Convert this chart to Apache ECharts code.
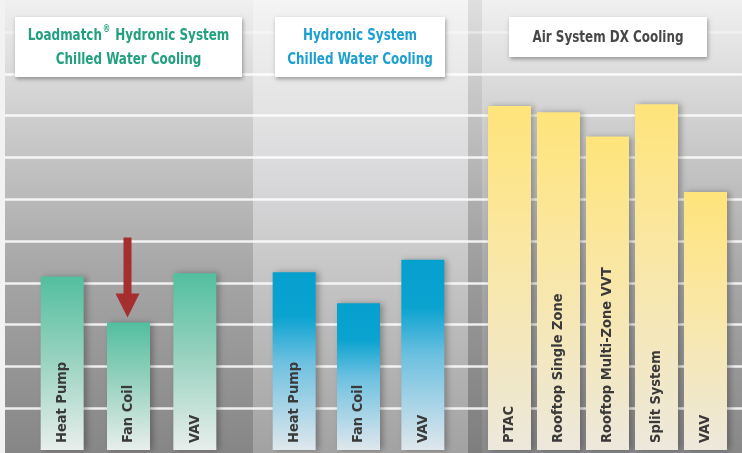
<!DOCTYPE html>
<html>
<head>
<meta charset="utf-8">
<script src="https://cdn.jsdelivr.net/npm/echarts@6/dist/echarts.min.js"></script>
<style>
html,body{margin:0;padding:0;background:#fff;}
#chart{width:742px;height:453px;}
</style>
</head>
<body>
<div id="chart"></div>
<script>
// ---- data ----
const catsLoadmatch = ['Heat Pump', 'Fan Coil', 'VAV'];
const valsLoadmatch = [4.15, 3.05, 4.23];
const catsHydronic = ['Heat Pump', 'Fan Coil', 'VAV'];
const valsHydronic = [4.25, 3.51, 4.55];
const catsAir = ['PTAC', 'Rooftop Single Zone', 'Rooftop Multi-Zone VVT', 'Split System', 'VAV'];
const valsAir = [8.23, 8.08, 7.50, 8.27, 6.17];
const headerLoadmatch = ['Loadmatch', '®', ' Hydronic System', 'Chilled Water Cooling'];
const headerHydronic = ['Hydronic System', 'Chilled Water Cooling'];
const headerAir = ['Air System DX Cooling'];
const highlightCategory = 'Fan Coil';
const highlightValue = valsLoadmatch[catsLoadmatch.indexOf(highlightCategory)];

const FONT = '"Liberation Sans Narrow", "DejaVu Sans Condensed", sans-serif';

function vgrad(stops) {
  return {type: 'linear', x: 0, y: 0, x2: 0, y2: 1,
    colorStops: stops.map(s => ({offset: s[0], color: s[1]}))};
}

const tealGrad = vgrad([[0, '#52bf9e'], [0.45, '#95d1be'], [1, '#e8eeec']]);
const blueGrad = vgrad([[0, '#06a0cf'], [0.25, '#0ba3d0'], [0.5, '#6cc0e0'], [1, '#dfe7ec']]);
const yellowGrad = vgrad([[0, '#ffe47a'], [0.45, '#f9e7a6'], [1, '#ece8dc']]);

const barLabel = {
  show: true, position: 'insideBottom', rotate: 90, align: 'left', verticalAlign: 'middle',
  distance: 7, formatter: '{b}', color: '#3a3a3a', fontFamily: FONT, fontWeight: 'bold', fontSize: 14.5
};

function barSeries(idx, data, grad, extra) {
  return Object.assign({
    type: 'bar', xAxisIndex: idx, yAxisIndex: idx, data: data, barWidth: 43,
    itemStyle: {color: grad, shadowColor: 'rgba(0,0,0,0.28)', shadowBlur: 6, shadowOffsetX: 3},
    label: barLabel, silent: true, z: 3
  }, extra || {});
}

const yBase = {type: 'value', min: 0, max: 10, interval: 1, axisLine: {show: false},
  axisTick: {show: false}, axisLabel: {show: false}, splitLine: {show: false}};
const xCat = (cats) => ({type: 'category', data: cats, axisLine: {show: false},
  axisTick: {show: false}, axisLabel: {show: false}, splitLine: {show: false}});

const lineColors = ['rgba(255,255,255,0)'];
for (let i = 0; i < 9; i++) lineColors.push('rgba(255,255,255,0.85)');
lineColors.push('rgba(255,255,255,0.4)');

function header(x, y, w, h, lines, color, rich, lh) {
  return {
    type: 'group', z: 100, children: [
      {type: 'rect', shape: {x: x, y: y, width: w, height: h},
        style: {fill: '#ffffff', shadowColor: 'rgba(0,0,0,0.35)', shadowBlur: 4, shadowOffsetX: 1, shadowOffsetY: 2}, z: 100},
      {type: 'text', x: x + w / 2, y: y + h / 2 + 1, z: 101, scaleX: 0.83,
        style: {text: lines, fill: color, font: 'bold 16px ' + FONT, align: 'center', verticalAlign: 'middle',
          lineHeight: lh || 24, rich: rich}}
    ]
  };
}

const richLoad = {
  a: {fill: '#22a080', font: 'bold 16px ' + FONT, lineHeight: 24},
  r: {fill: '#22a080', font: 'bold 10px ' + FONT, verticalAlign: 'top', lineHeight: 24, padding: [0, 1, 2, 1]}
};

const option = {
  backgroundColor: '#ffffff',
  animation: false,
  grid: [
    {left: 5, right: 0, top: 32, bottom: 3},
    {left: 29, width: 199, top: 32, bottom: 3},
    {left: 262, width: 193, top: 32, bottom: 3},
    {left: 485, width: 245, top: 32, bottom: 3}
  ],
  xAxis: [
    {type: 'value', gridIndex: 0, show: false},
    Object.assign(xCat(catsLoadmatch), {gridIndex: 1}),
    Object.assign(xCat(catsHydronic), {gridIndex: 2}),
    Object.assign(xCat(catsAir), {gridIndex: 3})
  ],
  yAxis: [
    Object.assign({}, yBase, {gridIndex: 0, splitLine: {show: true, lineStyle: {color: lineColors, width: 2.5}}}),
    Object.assign({}, yBase, {gridIndex: 1}),
    Object.assign({}, yBase, {gridIndex: 2}),
    Object.assign({}, yBase, {gridIndex: 3})
  ],
  graphic: [
    {type: 'rect', z: -10, silent: true, shape: {x: 0, y: 0, width: 742, height: 453}, style: {fill: '#f2f2f2'}},
    {type: 'rect', z: -9, silent: true, shape: {x: 5, y: 0, width: 248, height: 453},
      style: {fill: vgrad([[0, '#f0f0f0'], [0.25, '#cfcfcf'], [0.6, '#a6a6a6'], [1, '#868686']])}},
    {type: 'rect', z: -9, silent: true, shape: {x: 253, y: 0, width: 215, height: 453},
      style: {fill: vgrad([[0, '#f4f4f4'], [0.4, '#d8d8da'], [0.7, '#bdbdbd'], [1, '#a2a2a2']])}},
    {type: 'rect', z: -9, silent: true, shape: {x: 468, y: 0, width: 274, height: 453},
      style: {fill: vgrad([[0, '#f0f0f0'], [0.25, '#d2d2d2'], [0.6, '#a8a8a8'], [1, '#888888']])}},
    {type: 'rect', z: -8, silent: true, shape: {x: 468, y: 0, width: 14, height: 453},
      style: {fill: 'rgba(0,0,0,0.07)'}},
    header(15, 17, 227, 60, '{a|' + headerLoadmatch[0] + '}{r|' + headerLoadmatch[1] + '}{a|' + headerLoadmatch[2] + '}\n{a|' + headerLoadmatch[3] + '}', '#22a080', richLoad),
    header(275, 17, 170, 60, headerHydronic.join('\n'), '#1d9fd2'),
    header(509, 17, 198, 40, headerAir.join('\n'), '#474747')
  ],
  series: [
    barSeries(1, valsLoadmatch, tealGrad, {
      markPoint: {
        silent: true,
        symbol: 'path://M8,0 L16,0 L16,56 L24,56 L12,80 L0,56 L8,56 Z',
        symbolSize: [24, 80],
        symbolOffset: [-1, -45],
        itemStyle: {color: '#a52f2e'},
        label: {show: false},
        data: [{coord: [highlightCategory, highlightValue]}]
      }
    }),
    barSeries(2, valsHydronic, blueGrad),
    barSeries(3, valsAir, yellowGrad)
  ]
};

const chart = echarts.init(document.getElementById('chart'), null, {renderer: 'canvas'});
chart.setOption(option);
</script>
</body>
</html>
